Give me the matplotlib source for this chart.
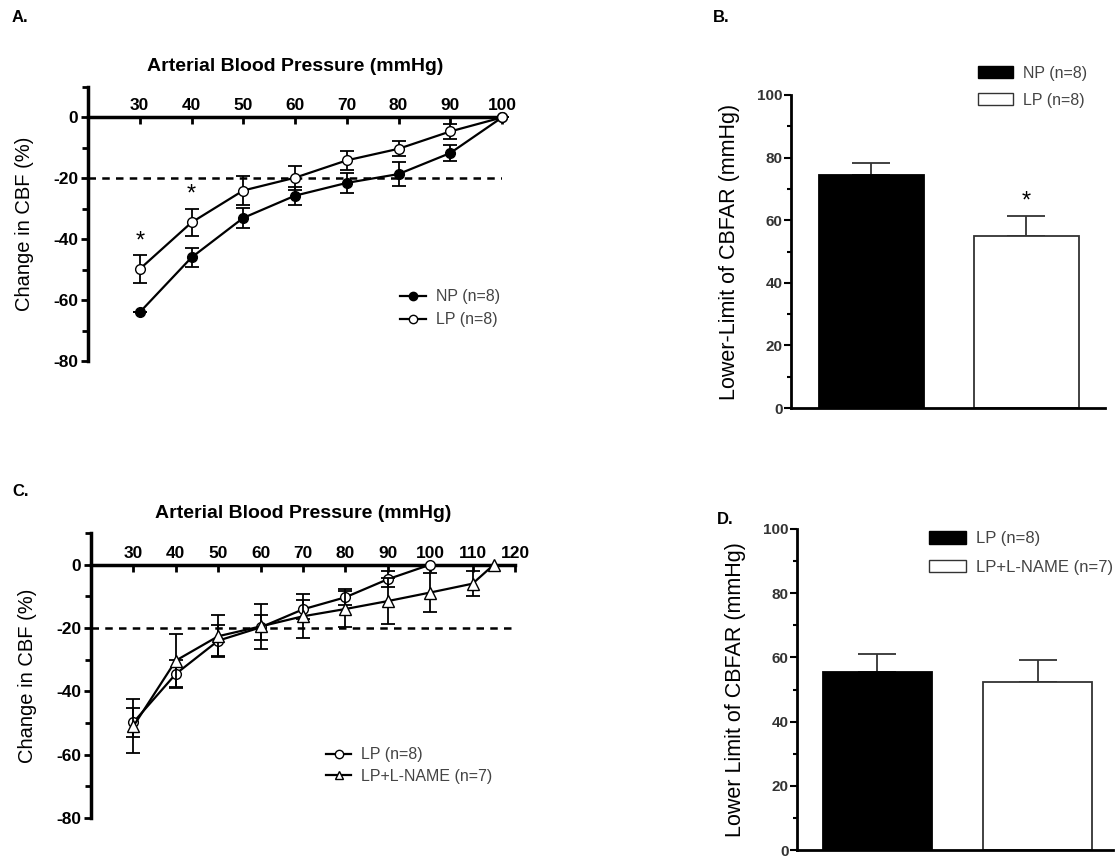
import matplotlib
matplotlib.use("Agg")
import matplotlib.pyplot as plt
from matplotlib.lines import Line2D
from matplotlib.ticker import MultipleLocator

plt.rcParams['font.family'] = ['Liberation Sans', 'DejaVu Sans']
plt.rcParams['axes.unicode_minus'] = False

# panel A / C: % change in CBF vs arterial pressure
bp = [30, 40, 50, 60, 70, 80, 90, 100]
np_mean = [-64, -46, -33, -25.7, -21.5, -18.6, -11.7, 0]
np_sem = [0, 3.0, 3.3, 3.0, 3.4, 4.0, 2.5, 0]
lp_mean = [-49.8, -34.5, -24, -19.8, -14.1, -10.3, -4.6, 0]
lp_sem = [4.5, 4.5, 4.8, 4.0, 3.0, 2.5, 2.5, 0]

lname_bp = [30, 40, 50, 60, 70, 80, 90, 100, 110, 115]
lname_mean = [-51, -30.3, -22.6, -19.5, -16.3, -14, -11.5, -8.8, -6, 0]
lname_sem = [8.5, 8.4, 6.6, 7.0, 7.0, 5.8, 7.3, 6.3, 4.0, 0]

# panel B / D: lower limit of autoregulation
llim_b_labels = ['NP (n=8)', 'LP (n=8)']
llim_b = [74.5, 55.0]
llim_b_err = [3.8, 6.3]
llim_d_labels = ['LP (n=8)', 'LP+L-NAME (n=7)']
llim_d = [55.5, 52.2]
llim_d_err = [5.7, 7.0]

W, H = 1117, 859
fig = plt.figure(figsize=(W / 100, H / 100), dpi=100)


def box(l, t, r, b):
    return [l / W, 1 - b / H, (r - l) / W, (b - t) / H]


def curve_axes(ax, xmax, xticks):
    ax.spines['bottom'].set_visible(False)
    ax.spines['right'].set_visible(False)
    ax.spines['top'].set_position(('data', 0))
    for s in ('left', 'top'):
        ax.spines[s].set_linewidth(2.5)
    ax.set_xlim(20, xmax)
    ax.set_ylim(-80, 10)
    ax.xaxis.tick_top()
    ax.set_xticks(xticks)
    ax.tick_params(axis='x', direction='in', length=5, width=2, pad=3,
                   labelsize=12.5)
    for t in ax.get_xticklabels():
        t.set_fontweight('bold')
    ax.set_yticks([0, -20, -40, -60, -80])
    ax.yaxis.set_minor_locator(MultipleLocator(10))
    ax.tick_params(axis='y', which='both', direction='out', width=2,
                   labelsize=12.5, pad=2)
    ax.tick_params(axis='y', which='major', length=5)
    ax.tick_params(axis='y', which='minor', length=4)
    for t in ax.get_yticklabels():
        t.set_fontweight('bold')
    ax.xaxis.set_label_position('top')
    ax.set_xlabel('Arterial Blood Pressure (mmHg)', fontsize=14,
                  fontweight='bold', labelpad=20)
    ax.set_ylabel('Change in CBF (%)', fontsize=14.5, labelpad=14)
    ax.plot([20, xmax], [-20, -20], ls=(0, (3, 2.5)), color='black', lw=1.8,
            zorder=1)


def key(marker, face, label):
    return Line2D([], [], color='black', lw=1.6, marker=marker, ms=6,
                  mfc=face, mec='black', label=label)


def curve(ax, x, y, err, marker, face, ms, z):
    ax.errorbar(x, y, yerr=err, color='black', marker=marker, ms=ms,
                mfc=face, mec='black', lw=1.6, capsize=5, elinewidth=1.3,
                capthick=1.3, zorder=z, clip_on=False)


# ---- A ----
axA = fig.add_axes(box(88, 87, 502, 361))
curve_axes(axA, 100, bp)
curve(axA, bp, np_mean, np_sem, 'o', 'black', 7, 3)
curve(axA, bp, lp_mean, lp_sem, 'o', 'white', 7, 4)
for i in (0, 1):
    axA.text(bp[i], lp_mean[i] + lp_sem[i] + 1.0, '*', ha='center',
             va='bottom', fontsize=17)
legA = axA.legend(handles=[key('o', 'black', 'NP (n=8)'),
                           key('o', 'white', 'LP (n=8)')],
                  loc='lower left', bbox_to_anchor=(0.72, 0.07), frameon=False,
                  fontsize=11.5, handlelength=1.6, handletextpad=0.6,
                  labelspacing=0.5)
for t in legA.get_texts():
    t.set_color('#444444')

# ---- C ----
axC = fig.add_axes(box(91, 533, 515, 818))
curve_axes(axC, 120, [30, 40, 50, 60, 70, 80, 90, 100, 110, 120])
curve(axC, bp, lp_mean, lp_sem, 'o', 'white', 7, 3)
curve(axC, lname_bp, lname_mean, lname_sem, '^', 'white', 8, 4)
legC = axC.legend(handles=[key('o', 'white', 'LP (n=8)'),
                           key('^', 'white', 'LP+L-NAME (n=7)')],
                  loc='lower left', bbox_to_anchor=(0.52, 0.07), frameon=False,
                  fontsize=11.5, handlelength=1.6, handletextpad=0.6,
                  labelspacing=0.4)
for t in legC.get_texts():
    t.set_color('#444444')


# ---- bar panels ----
def bar_axes(ax, vals, errs, ylabel, xlim):
    pos = [0, 1]
    ax.bar(pos, vals, width=0.68, color=['black', 'white'],
           edgecolor=['black', '#333333'], linewidth=1.3, zorder=2)
    ax.errorbar(pos, vals, yerr=[[0, 0], errs], fmt='none', ecolor='#333333',
                elinewidth=1.3, capsize=14, capthick=1.3, zorder=1)
    ax.set_xlim(*xlim)
    ax.set_ylim(0, 100)
    ax.set_xticks([])
    ax.spines['right'].set_visible(False)
    ax.spines['top'].set_visible(False)
    for s in ('left', 'bottom'):
        ax.spines[s].set_linewidth(2)
    ax.set_yticks([0, 20, 40, 60, 80, 100])
    ax.yaxis.set_minor_locator(MultipleLocator(10))
    ax.tick_params(axis='y', which='both', direction='out', width=1.5,
                   labelsize=11, labelcolor='#333333', pad=1)
    ax.tick_params(axis='y', which='major', length=5)
    ax.tick_params(axis='y', which='minor', length=3)
    for t in ax.get_yticklabels():
        t.set_fontweight('bold')
    ax.set_ylabel(ylabel, fontsize=15.5, labelpad=12)
    return [plt.Rectangle((0, 0), 1, 1, facecolor='black', edgecolor='black'),
            plt.Rectangle((0, 0), 1, 1, facecolor='white', edgecolor='#333333')]


axB = fig.add_axes(box(791, 95, 1105, 408))
hB = bar_axes(axB, llim_b, llim_b_err, 'Lower-Limit of CBFAR (mmHg)',
              (-0.52, 1.51))
axB.text(1, llim_b[1] + llim_b_err[1] + 1.0, '*', ha='center', va='bottom',
         fontsize=17)
legB = axB.legend(hB, llim_b_labels, loc='upper left',
                  bbox_to_anchor=(0.55, 1.14), frameon=False, fontsize=11.5,
                  handlelength=2.2, handleheight=0.8, handletextpad=0.6,
                  labelspacing=0.75)
for t in legB.get_texts():
    t.set_color('#444444')

axD = fig.add_axes(box(797, 529, 1113, 850))
hD = bar_axes(axD, llim_d, llim_d_err, 'Lower Limit of CBFAR (mmHg)',
              (-0.50, 1.47))
legD = axD.legend(hD, llim_d_labels, loc='upper left',
                  bbox_to_anchor=(0.37, 1.04), frameon=False, fontsize=12,
                  handlelength=2.2, handleheight=0.8, handletextpad=0.6,
                  labelspacing=0.8)
for t in legD.get_texts():
    t.set_color('#444444')

# panel letters
for lab, x, y in [('A.', 12, 18), ('B.', 713, 18), ('C.', 12, 492),
                  ('D.', 717, 520)]:
    fig.text(x / W, 1 - y / H, lab, fontsize=12, fontweight='bold',
             ha='left', va='center')

fig.savefig('out.png', dpi=100)
